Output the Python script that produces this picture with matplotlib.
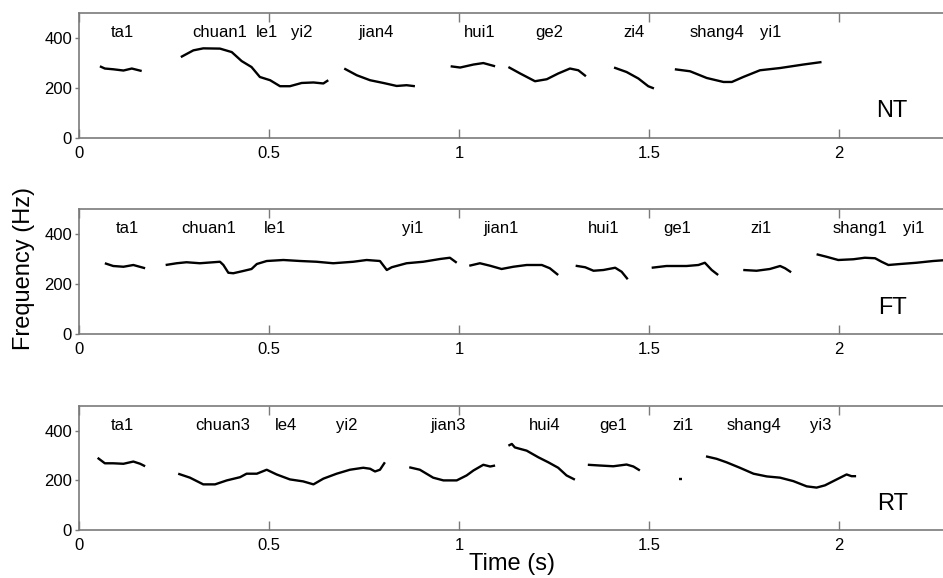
import matplotlib
matplotlib.use("Agg")
import matplotlib.pyplot as plt

plt.rcParams["font.family"] = ["Liberation Sans", "DejaVu Sans"]

# ------------------------------------------------------------
# pitch contours (time in s, F0 in Hz)
# ------------------------------------------------------------

# NT
nt_time = [
    [0.055, 0.068, 0.090, 0.117, 0.139, 0.165],
    [0.268, 0.301, 0.327, 0.371, 0.402, 0.428, 0.454, 0.476, 0.503, 0.529,
     0.555, 0.586, 0.617, 0.643, 0.656],
    [0.698, 0.731, 0.766, 0.801, 0.836, 0.862, 0.884],
    [0.978, 1.003, 1.038, 1.064, 1.095],
    [1.130, 1.161, 1.200, 1.231, 1.261, 1.292, 1.314, 1.334],
    [1.408, 1.441, 1.472, 1.498, 1.513],
    [1.568, 1.608, 1.652, 1.696, 1.718, 1.748, 1.792, 1.845, 1.906, 1.954],
]
nt_freq = [
    [286, 277, 274, 269, 277, 267],
    [323, 350, 358, 357, 343, 307, 283, 243, 230, 206, 206, 219, 221, 217, 230],
    [277, 250, 230, 219, 207, 210, 206],
    [286, 281, 293, 299, 286],
    [283, 257, 226, 234, 257, 277, 270, 246],
    [281, 263, 237, 206, 197],
    [274, 266, 239, 223, 223, 243, 270, 279, 293, 303],
]
nt_syll = ["ta1", "chuan1", "le1", "yi2", "jian4", "hui1", "ge2", "zi4", "shang4", "yi1"]
nt_syll_t = [0.115, 0.371, 0.494, 0.586, 0.783, 1.054, 1.238, 1.461, 1.678, 1.821]

# FT
ft_time = [
    [0.068, 0.090, 0.117, 0.143, 0.174],
    [0.228, 0.257, 0.283, 0.318, 0.371, 0.380, 0.393, 0.406, 0.432, 0.454,
     0.468, 0.494, 0.538, 0.582, 0.625, 0.669, 0.722, 0.757, 0.792, 0.810,
     0.823, 0.862, 0.906, 0.950, 0.976, 0.994],
    [1.027, 1.055, 1.082, 1.112, 1.143, 1.178, 1.218, 1.239, 1.261],
    [1.307, 1.332, 1.354, 1.380, 1.411, 1.428, 1.444],
    [1.507, 1.546, 1.599, 1.630, 1.647, 1.665, 1.682],
    [1.748, 1.783, 1.818, 1.845, 1.858, 1.874],
    [1.941, 1.967, 1.998, 2.038, 2.068, 2.095, 2.112, 2.130, 2.161, 2.204,
     2.248, 2.285],
]
ft_freq = [
    [283, 272, 269, 276, 263],
    [276, 283, 287, 283, 289, 276, 245, 243, 252, 260, 280, 292, 296, 292,
     289, 283, 289, 296, 292, 256, 267, 283, 289, 300, 305, 285],
    [273, 283, 273, 260, 269, 276, 276, 263, 236],
    [273, 267, 253, 256, 265, 249, 219],
    [265, 272, 272, 276, 285, 256, 236],
    [256, 253, 260, 272, 263, 247],
    [319, 309, 296, 299, 305, 303, 289, 276, 280, 285, 292, 296],
]
ft_syll = ["ta1", "chuan1", "le1", "yi1", "jian1", "hui1", "ge1", "zi1", "shang1", "yi1"]
ft_syll_t = [0.128, 0.340, 0.516, 0.877, 1.110, 1.382, 1.575, 1.796, 2.055, 2.196]

# RT
rt_time = [
    [0.049, 0.068, 0.090, 0.117, 0.143, 0.161, 0.174],
    [0.261, 0.292, 0.327, 0.358, 0.389, 0.424, 0.441, 0.468, 0.494, 0.520,
     0.555, 0.590, 0.617, 0.643, 0.678, 0.713, 0.748, 0.766, 0.779, 0.792,
     0.805],
    [0.869, 0.897, 0.932, 0.959, 0.994, 1.020, 1.038, 1.064, 1.082, 1.095],
    [1.130, 1.139, 1.147, 1.161, 1.178, 1.209, 1.235, 1.261, 1.283, 1.305],
    [1.339, 1.371, 1.406, 1.441, 1.459, 1.476],
    [1.578, 1.586],
    [1.650, 1.678, 1.704, 1.739, 1.775, 1.810, 1.845, 1.880, 1.915, 1.941,
     1.963, 1.994, 2.020, 2.033, 2.045],
]
rt_freq = [
    [291, 269, 269, 267, 276, 267, 257],
    [227, 211, 184, 184, 200, 213, 227, 227, 243, 224, 204, 196, 184, 207,
     227, 243, 251, 247, 236, 243, 273],
    [253, 243, 211, 200, 200, 220, 240, 263, 256, 260],
    [340, 347, 333, 327, 320, 293, 273, 251, 220, 203],
    [263, 260, 257, 264, 256, 240],
    [204, 204],
    [297, 287, 273, 251, 227, 216, 211, 197, 176, 171, 180, 204, 224, 217, 217],
]
rt_syll = ["ta1", "chuan3", "le4", "yi2", "jian3", "hui4", "ge1", "zi1", "shang4", "yi3"]
rt_syll_t = [0.115, 0.378, 0.546, 0.704, 0.970, 1.225, 1.406, 1.589, 1.776, 1.953]

panel_names = ["NT", "FT", "RT"]
x_ticks = [0, 0.5, 1, 1.5, 2]
x_ticklabels = ["0", "0.5", "1", "1.5", "2"]
y_ticks = [0, 200, 400]

panels = [
    (nt_time, nt_freq, nt_syll, nt_syll_t),
    (ft_time, ft_freq, ft_syll, ft_syll_t),
    (rt_time, rt_freq, rt_syll, rt_syll_t),
]

# ------------------------------------------------------------
# layout (pixel geometry of the original, 943 x 578)
# ------------------------------------------------------------
W, H = 943, 578
px_per_s = 380.0
left_px = 79
right_px = 948          # axes run slightly past the image edge
panel_px = [(13, 137.5), (209, 334), (406, 530)]   # (top, bottom)

fig = plt.figure(figsize=(W / 100, H / 100), dpi=100)
spine_col = "#7a7a7a"

for (times, freqs, sylls, syll_t), name, (top, bot) in zip(panels, panel_names, panel_px):
    ax = fig.add_axes([left_px / W, 1 - bot / H, (right_px - left_px) / W, (bot - top) / H])

    for t, f in zip(times, freqs):
        ax.plot(t, f, color="black", lw=1.7, solid_capstyle="butt")

    for s, ts in zip(sylls, syll_t):
        ax.text(ts, 423, s, ha="center", va="center", fontsize=12)

    ax.text(2.14, 106, name, ha="center", va="center", fontsize=17)

    ax.set_xlim(0, (right_px - left_px) / px_per_s)
    ax.set_ylim(0, 500)
    ax.set_xticks(x_ticks)
    ax.set_xticklabels(x_ticklabels)
    ax.set_yticks(y_ticks)

    for sp in ax.spines.values():
        sp.set_color(spine_col)
        sp.set_linewidth(1.2)
    ax.spines["right"].set_visible(False)

    ax.tick_params(axis="x", direction="in", top=True, bottom=True, length=6.5,
                   width=1.0, color=spine_col, labelsize=12, pad=6)
    ax.tick_params(axis="y", direction="out", left=True, right=False, length=3,
                   width=1.0, color=spine_col, labelsize=12, pad=2)

fig.text(24 / W, 1 - 269 / H, "Frequency (Hz)", rotation=90, ha="center", va="center",
         fontsize=17)
fig.text(512 / W, 1 - 564 / H, "Time (s)", ha="center", va="center", fontsize=17)

fig.savefig("out.png", dpi=100)
